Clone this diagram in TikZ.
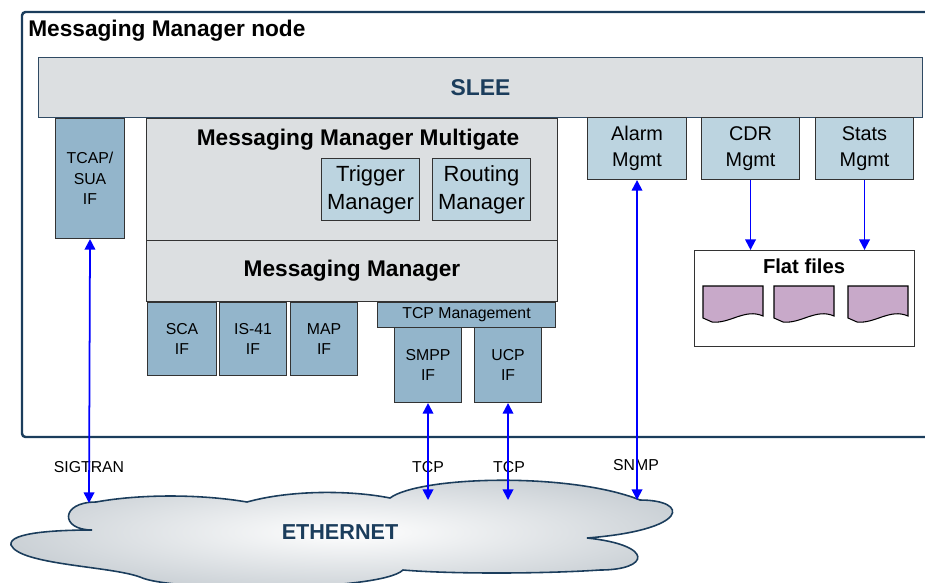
\documentclass[tikz,border=0pt]{standalone}
\usepackage{fontspec}
\setmainfont{Liberation Sans}
\usetikzlibrary{arrows.meta}
\definecolor{navy}{RGB}{27,61,92}
\definecolor{steel}{RGB}{147,181,203}
\definecolor{lightsteel}{RGB}{188,212,224}
\definecolor{boxgray}{RGB}{220,223,225}
\definecolor{docpurple}{RGB}{200,169,201}
\definecolor{cloudgray}{RGB}{203,209,214}

\begin{document}
\begin{tikzpicture}[x=0.02cm,y=-0.02cm,
    box/.style={draw=black!80,line width=0.6pt,inner sep=0pt,align=center,anchor=north west},
    ifbox/.style={box,fill=steel,font=\fontsize{9}{11.6}\selectfont},
    mgmt/.style={box,fill=lightsteel,font=\fontsize{11.3}{14.7}\selectfont},
    layer/.style={box,fill=boxgray,font=\bfseries\fontsize{12.9}{15}\selectfont},
    proto/.style={inner sep=0pt,font=\fontsize{9}{10}\selectfont},
    link/.style={blue,line width=1pt,{Triangle[length=6pt,width=6pt]}-{Triangle[length=6pt,width=6pt]}},
    feed/.style={blue,line width=1pt,-{Triangle[length=6pt,width=6pt]}}]
        \useasboundingbox (0,0) rectangle (925,582);
        % node frame
        \draw[navy,line width=1.4pt,rounded corners=2pt] (22,12) rectangle (960,437);
        \node[anchor=west,inner sep=0pt,font=\bfseries\fontsize{12.9}{15}\selectfont] (title) at (28,31) {Messaging Manager node};
        \node[box,draw=navy!80!gray,fill=boxgray,text=navy,font=\bfseries\fontsize{13}{15}\selectfont,minimum width=17.68cm,minimum height=1.2cm] (slee) at (38,57) {SLEE};
        % left column
        \node[ifbox,minimum width=1.38cm,minimum height=2.4cm] (tcap) at (55,118) {TCAP/\\SUA\\IF};
        \node[layer,minimum width=8.22cm,minimum height=2.44cm] (multi) at (146,118) {};
        \node[inner sep=0pt,font=\bfseries\fontsize{12.9}{15}\selectfont] (multilbl) at (358,140) {Messaging Manager Multigate};
        \node[mgmt,font=\fontsize{12.5}{16}\selectfont,minimum width=1.96cm,minimum height=1.24cm] (trigger) at (321,158) {Trigger\\Manager};
        \node[mgmt,font=\fontsize{12.5}{16}\selectfont,minimum width=1.96cm,minimum height=1.24cm] (routing) at (432,158) {Routing\\Manager};
        \node[layer,minimum width=8.22cm,minimum height=1.22cm] (mm) at (146,240) {Messaging Manager};
        \node[ifbox,minimum width=1.38cm,minimum height=1.46cm] (sca) at (147,302) {SCA\\IF};
        \node[ifbox,minimum width=1.34cm,minimum height=1.46cm] (is41) at (219,302) {IS-41\\IF};
        \node[ifbox,minimum width=1.34cm,minimum height=1.46cm] (map) at (290,302) {MAP\\IF};
        \node[ifbox,minimum width=3.56cm,minimum height=0.5cm] (tcpm) at (377,302) {TCP Management};
        \node[ifbox,minimum width=1.34cm,minimum height=1.5cm] (smpp) at (394,327) {SMPP\\IF};
        \node[ifbox,minimum width=1.34cm,minimum height=1.5cm] (ucp) at (474,327) {UCP\\IF};
        % right column
        \node[mgmt,minimum width=1.98cm,minimum height=1.24cm] (alarm) at (587,117) {Alarm\\Mgmt};
        \node[mgmt,minimum width=1.96cm,minimum height=1.24cm] (cdr) at (701,117) {CDR\\Mgmt};
        \node[mgmt,minimum width=1.96cm,minimum height=1.24cm] (stats) at (815,117) {Stats\\Mgmt};
        \node[box,fill=white,minimum width=4.4cm,minimum height=1.92cm] (files) at (694,250) {};
        \node[inner sep=0pt,font=\bfseries\fontsize{11.5}{13}\selectfont] (fileslbl) at (804,266) {Flat files};
        \filldraw[fill=docpurple,line width=0.6pt] (703,286) -- (763,286) -- (763,316) .. controls (745,308) and (730,324) .. (712,322) -- (703,318) -- cycle;
        \filldraw[fill=docpurple,line width=0.6pt] (774,286) -- (834,286) -- (834,316) .. controls (816,308) and (801,324) .. (783,322) -- (774,318) -- cycle;
        \filldraw[fill=docpurple,line width=0.6pt] (848,286) -- (908,286) -- (908,316) .. controls (890,308) and (875,324) .. (857,322) -- (848,318) -- cycle;
        % network
        \shadedraw[draw=navy,line width=0.9pt,inner color=white,outer color=cloudgray]
          (92,530) .. controls (60,530) and (60,502) .. (96,502)
          .. controls (140,494) and (200,494) .. (247,502)
          .. controls (290,490) and (350,490) .. (390,498)
          .. controls (420,476) and (570,472) .. (640,500)
          .. controls (690,500) and (690,530) .. (587,538)
          .. controls (655,545) and (650,570) .. (600,570)
          .. controls (540,574) and (450,574) .. (403,570)
          .. controls (380,592) and (170,592) .. (140,577)
          .. controls (110,566) and (20,565) .. (11,545)
          .. controls (8,532) and (60,530) .. cycle;
        \node[text=navy,inner sep=0pt,font=\bfseries\fontsize{12.3}{14}\selectfont] (eth) at (340,532) {ETHERNET};
        \coordinate (sigend) at (89,503);
        \coordinate (tcpend1) at (428,500);
        \coordinate (tcpend2) at (508,500);
        \coordinate (snmpend) at (637,500);
        \node[proto] (sigtran) at (89,467) {SIGTRAN};
        \node[proto] (tcp1) at (428,467) {TCP};
        \node[proto] (tcp2) at (509,467) {TCP};
        \node[proto] (snmp) at (636,465) {SNMP};
        \draw[link] (tcap.south) -- (sigend);
        \draw[link] (smpp.south) -- (tcpend1);
        \draw[link] (ucp.south) -- (tcpend2);
        \draw[link] (alarm.south) -- (snmpend);
        \draw[feed] (cdr.south) -- (cdr.south |- files.north);
        \draw[feed] (stats.south) -- (stats.south |- files.north);
\end{tikzpicture}
\end{document}
